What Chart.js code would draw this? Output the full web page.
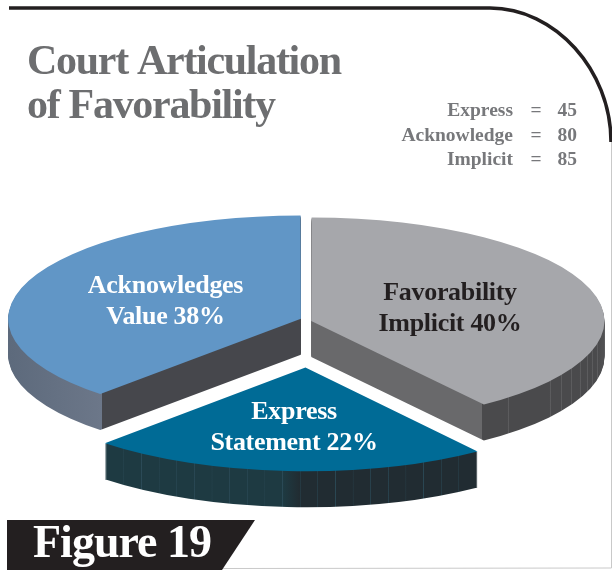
<!DOCTYPE html>
<html><head><meta charset="utf-8">
<style>html,body{margin:0;padding:0;background:#fff}#w{width:612px;height:570px;position:relative}canvas{display:block}</style>
<script src="https://cdn.jsdelivr.net/npm/chart.js@4"></script></head>
<body><div id="w"><canvas id="c" width="612" height="570"></canvas></div>
<script>
// ---- data ----
const sliceNames = ['Favorability Implicit', 'Express Statement', 'Acknowledges Value'];
const shares = [40, 22, 38];
const sliceLabels = [['Favorability', 'Implicit 40%'], ['Express', 'Statement 22%'], ['Acknowledges', 'Value 38%']];
const countNames = ['Express', 'Acknowledge', 'Implicit'];
const countValues = [45, 80, 85];
const titleLines = ['Court Articulation', 'of Favorability'];
const figureLabel = 'Figure 19';

// ---- style ----
const SERIF = '"Liberation Serif", serif';
const topColors = ['#a6a7ab', '#006b96', '#6196c6'];
const labelColors = ['#231f20', '#ffffff', '#ffffff'];
const labelPos = [[450, 300], [294, 419], [165.5, 293]];
const offsets = [22, 546, 22];
const nudgeX = [0, 8, 0];
const nudgeY = [2, 0, 0];
const SY = 0.353, DEPTH = 36, R = 291, CX = 306, CY = 319.5;
const ribsGray = [508, 550, 561, 571, 580, 587, 592, 597];

function wallGradient(ctx, i, el) {
  const g = ctx.createLinearGradient(el.x - R, 0, el.x + R, 0);
  const f = a => 0.5 + 0.5 * Math.cos(a);          // canvas angle -> fraction
  const fx = px => (px - (CX + 5.3 * 0.951 - R)) / (2 * R);
  if (i === 0) {
    const s = f(el.endAngle);
    g.addColorStop(0, '#69696b'); g.addColorStop(s, '#69696b');
    g.addColorStop(s, '#4a4a4c');
    ribsGray.forEach(x => {
      const p = fx(x);
      g.addColorStop(p - 0.0012, '#4a4a4c'); g.addColorStop(p, '#6a6a6c'); g.addColorStop(p + 0.0012, '#4a4a4c');
    });
    g.addColorStop(1, '#505052');
  } else if (i === 2) {
    const s = f(el.startAngle);
    g.addColorStop(0, '#5d6a7c'); g.addColorStop(s, '#6c7789');
    g.addColorStop(s, '#46474c'); g.addColorStop(1, '#46474c');
  } else {
    const a = f(el.endAngle), b = f(el.startAngle), n = 21;
    for (let k = 0; k <= n; k++) {
      const p = a + (b - a) * k / n, t = k / n;
      const base = t < 0.5 ? '#1e3a42' : '#212c32';
      if (k > 0 && k < n) {
        g.addColorStop(p - 0.001, base); g.addColorStop(p, '#2b4a57'); g.addColorStop(p + 0.001, base);
      } else g.addColorStop(p, base);
    }
  }
  return g;
}

const pie3d = {
  id: 'pie3d',
  beforeDatasetDraw(chart) {
    const ctx = chart.ctx, ca = chart.chartArea;
    const meta = chart.getDatasetMeta(0);
    const cx0 = (ca.left + ca.right) / 2, cy0 = (ca.top + ca.bottom) / 2;
    [0, 2, 1].forEach(i => {
      const el = meta.data[i], o = el.options;
      ctx.save();
      ctx.translate(CX + nudgeX[i], CY + nudgeY[i]);
      ctx.scale(1, SY);
      ctx.translate(-cx0, -cy0);
      const g = wallGradient(ctx, i, el);
      for (let d = DEPTH; d >= 1; d--) {
        ctx.save();
        ctx.translate(0, d / SY);
        el.options = Object.assign({}, o, { backgroundColor: g, borderWidth: 0 });
        el.draw(ctx);
        ctx.restore();
      }
      el.options = o;
      el.draw(ctx);
      ctx.restore();
    });
    return false;
  },
  afterDraw(chart) {
    const ctx = chart.ctx;
    ctx.save();
    // frame
    ctx.strokeStyle = '#231f20'; ctx.lineWidth = 3.5;
    ctx.beginPath(); ctx.moveTo(9, 8); ctx.lineTo(490, 8);
    ctx.bezierCurveTo(555, 8, 611, 70, 611, 142); ctx.stroke();
    ctx.strokeStyle = '#c9c9c9'; ctx.lineWidth = 1;
    ctx.beginPath(); ctx.moveTo(611.5, 142); ctx.lineTo(611.5, 568); ctx.lineTo(222, 568.5); ctx.stroke();
    // title
    ctx.textAlign = 'left'; ctx.textBaseline = 'alphabetic';
    ctx.fillStyle = '#6d6e70'; ctx.font = 'bold 42px ' + SERIF; ctx.letterSpacing = '-1.3px';
    titleLines.forEach((t, k) => ctx.fillText(t, 27, 74 + k * 43.5));
    // slice labels
    ctx.textAlign = 'center';
    ctx.font = 'bold 26px ' + SERIF; ctx.letterSpacing = '-0.3px';
    sliceLabels.forEach((ls, i) => {
      ctx.fillStyle = labelColors[i];
      ls.forEach((t, k) => ctx.fillText(t, labelPos[i][0], labelPos[i][1] + k * 31));
    });
    // counts
    ctx.font = 'bold 19.5px ' + SERIF; ctx.fillStyle = '#77787b'; ctx.letterSpacing = '0px';
    countNames.forEach((n, k) => {
      const y = 116 + k * 24.5;
      ctx.textAlign = 'right'; ctx.fillText(n, 513, y);
      ctx.textAlign = 'center'; ctx.fillText('=', 536, y);
      ctx.textAlign = 'right'; ctx.fillText(String(countValues[k]), 577, y);
    });
    // figure tag
    ctx.fillStyle = '#231f20';
    ctx.beginPath(); ctx.moveTo(7, 520); ctx.lineTo(255, 520); ctx.lineTo(222, 570); ctx.lineTo(7, 570); ctx.closePath(); ctx.fill();
    ctx.fillStyle = '#fff'; ctx.textAlign = 'left'; ctx.font = 'bold 46px ' + SERIF; ctx.letterSpacing = '-1px';
    ctx.fillText(figureLabel, 33, 557);
    ctx.restore();
  }
};

new Chart(document.getElementById('c'), {
  type: 'pie',
  plugins: [pie3d],
  data: {
    labels: sliceNames,
    datasets: [{ data: shares, backgroundColor: topColors, offset: offsets, borderWidth: 0, clip: false, radius: R }]
  },
  options: {
    responsive: false,
    animation: false,
    radius: R,
    plugins: { legend: { display: false }, tooltip: { enabled: false } }
  }
});
</script></body></html>
